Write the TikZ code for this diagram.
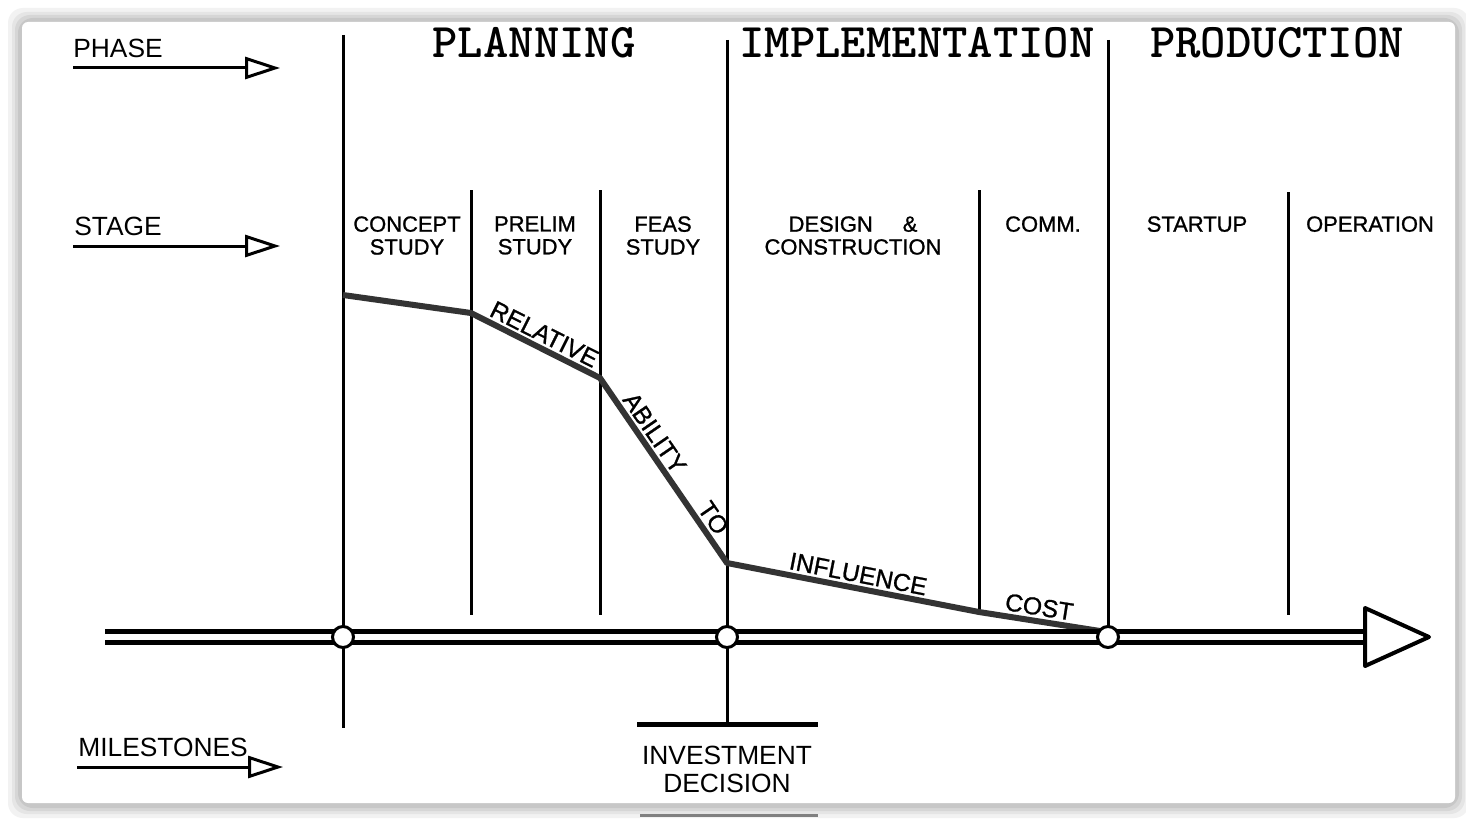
\documentclass[tikz,border=0pt]{standalone}
\usepackage{fontspec}
\setsansfont{Liberation Sans}
\newfontfamily\phasefont{lmmonolt10-bold.otf}
\newfontfamily\stagefont{Liberation Sans}[FakeBold=1]
\usetikzlibrary{arrows.meta}
\newcommand{\pxu}{0.02cm}

\tikzset{
  divider/.style={line width=3*\pxu},
  curve/.style={line width=6*\pxu, black!80, line join=round},
  pointer/.style={line width=3*\pxu, -{Triangle[open, length=35*\pxu, width=22*\pxu, line width=3*\pxu]}},
  axis/.style={line width=5*\pxu, double=white, double distance=6*\pxu},
  axhead/.style={line width=4*\pxu, fill=white, line join=round},
  mstone/.style={circle, draw, fill=white, line width=3*\pxu, inner sep=0pt, minimum size=21*\pxu},
  phaselbl/.style={font={\phasefont\fontsize{27.5}{30}\selectfont}, inner sep=0pt, anchor=base},
  sidelbl/.style={font={\sffamily\fontsize{15}{16}\selectfont}, inner sep=0pt},
  stagelbl/.style={font={\stagefont\fontsize{12.5}{13}\selectfont}, align=center, inner sep=0pt, anchor=north},
  curvelbl/.style={font={\stagefont\fontsize{14}{14}\selectfont}, text=black, sloped, above, inner sep=1.5pt}
}

\begin{document}
\begin{tikzpicture}[x=\pxu, y=-\pxu]
    \useasboundingbox (0,0) rectangle (1466,821);

    % frame with soft shadow
    \fill[white] (0,0) rectangle (1466,821);
    \foreach \d/\g in {14/5, 10/10, 7/16, 4/22}
        \fill[black!\g, rounded corners=0.3cm] (22-\d,22-\d) rectangle (1455+\d,804+\d);
    \fill[white, rounded corners=0.12cm] (22,22) rectangle (1455,803);

    % row titles
    \node[sidelbl, anchor=base west] (phase) at (73,58) {PHASE};
    \node[sidelbl, anchor=base west] (stage) at (74,235) {STAGE};
    \node[sidelbl, anchor=base west] (miles) at (78,756) {MILESTONES};
    \coordinate (phL) at (73,68);  \coordinate (phR) at (280,68);
    \coordinate (stL) at (73,246); \coordinate (stR) at (280,246);
    \coordinate (miL) at (77,767); \coordinate (miR) at (283,767);
    \foreach \a/\b in {phL/phR, stL/stR, miL/miR}{\draw[pointer] (\a) -- (\b);}

    % phases
    \node[phaselbl] (plan) at (534,58) {PLANNING};
    \node[phaselbl] (impl) at (917,58) {IMPLEMENTATION};
    \node[phaselbl] (prod) at (1277,58) {PRODUCTION};

    % stages
    \node[stagelbl] (concept) at (407,216) {CONCEPT\\STUDY};
    \node[stagelbl] (prelim) at (535,216) {PRELIM\\STUDY};
    \node[stagelbl] (feas) at (663,216) {FEAS\\STUDY};
    \node[stagelbl] (design) at (853,216) {DESIGN\hspace{0.6cm}\&\\CONSTRUCTION};
    \node[stagelbl] (comm) at (1043,216) {COMM.};
    \node[stagelbl] (startup) at (1197,216) {STARTUP};
    \node[stagelbl] (oper) at (1370,216) {OPERATION};

    % dividers
    \foreach \n/\x/\t/\b in {p1/343/35/728, s1/471/190/615, s2/600/190/615, p2/727/40/722,
                             s3/979/190/615, p3/1108/40/637, s4/1288/192/615}{
        \coordinate (\n t) at (\x,\t);
        \coordinate (\n b) at (\x,\b);
        \draw[divider] (\n t) -- (\n b);
    }

    % relative ability to influence cost
    \coordinate (c0) at (343,295);
    \coordinate (c1) at (471,313);
    \coordinate (c2) at (600,378);
    \coordinate (c3) at (727,563);
    \coordinate (c4) at (979,612);
    \coordinate (c5) at (1100,631);
    \draw[curve] (c0) -- (c1)
        -- (c2) node[curvelbl, pos=0.52] (rel) {RELATIVE}
        -- (c3) node[curvelbl, pos=0.34] (abil) {ABILITY} node[curvelbl, pos=0.8] (to) {TO}
        -- (c4) node[curvelbl, pos=0.51] (infl) {INFLUENCE}
        -- (c5) node[curvelbl, pos=0.48] (cost) {COST};

    % time axis
    \coordinate (axL) at (105,637);
    \coordinate (axR) at (1366,637);
    \draw[axis] (axL) -- (axR);
    \coordinate (hd1) at (1365,608);
    \coordinate (hd2) at (1429,637);
    \coordinate (hd3) at (1365,666);
    \draw[axhead] (hd1) -- (hd2) -- (hd3) -- cycle;

    % milestones
    \node[mstone] (m1) at (343,637) {};
    \node[mstone] (m2) at (727,637) {};
    \node[mstone] (m3) at (1108,637) {};

    % investment decision
    \coordinate (invL) at (637,724);
    \coordinate (invR) at (818,724);
    \draw[line width=5*\pxu] (invL) -- (invR);
    \node[sidelbl, align=center] (inv) at (727,769) {INVESTMENT\\DECISION};
    \coordinate (botL) at (640,815);
    \coordinate (botR) at (818,815);
    \draw[line width=3*\pxu, black!50] (botL) -- (botR);
\end{tikzpicture}
\end{document}
